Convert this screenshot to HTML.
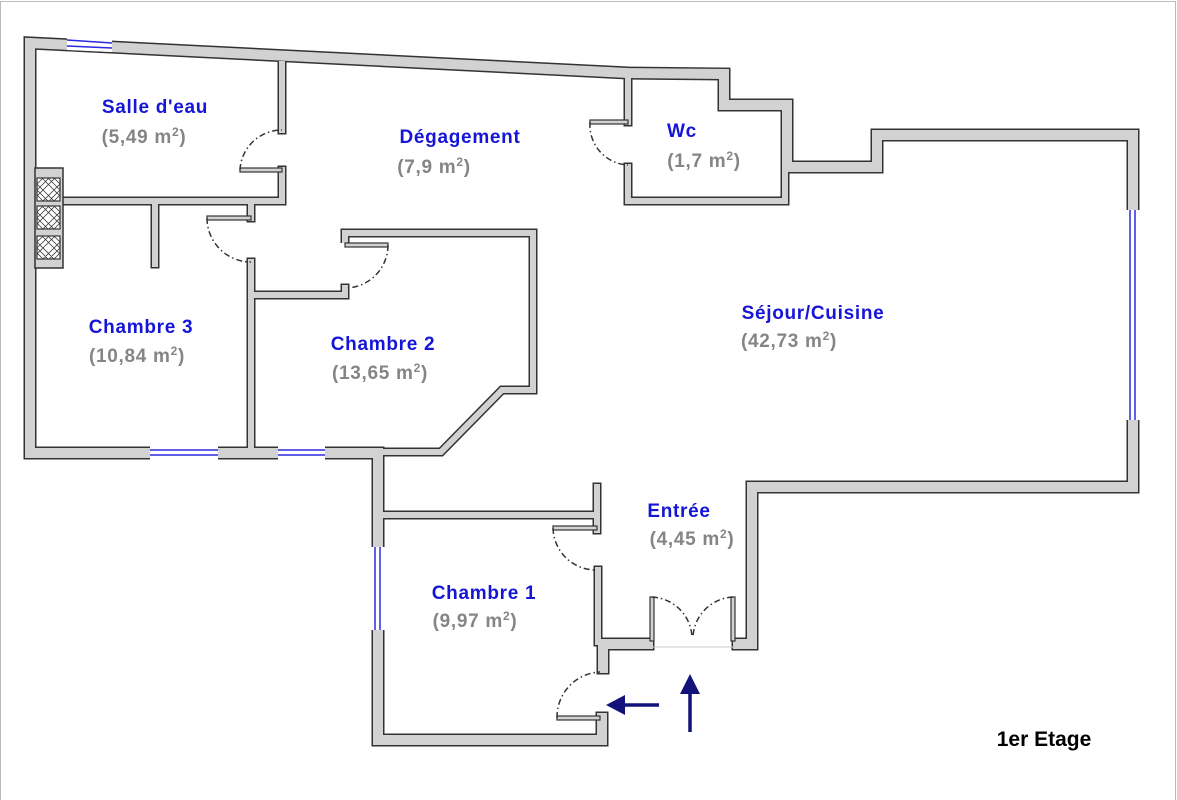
<!DOCTYPE html>
<html><head><meta charset="utf-8"><style>
html,body{margin:0;padding:0;background:#fff;}
svg{display:block;}
text{font-family:"Liberation Sans","DejaVu Sans",sans-serif;font-weight:bold;}
.n{fill:#1515d8;font-size:19px;letter-spacing:0.7px;}
.a{fill:#858585;font-size:19px;letter-spacing:0.7px;}
</style></head><body>
<svg width="1177" height="800" viewBox="0 0 1177 800" xmlns="http://www.w3.org/2000/svg">
<rect x="0.5" y="1.5" width="1175" height="805" fill="none" stroke="#bbb" stroke-width="1"/>
<g fill="none" stroke-linejoin="miter" stroke-linecap="square">
<g stroke="#333">
<polyline stroke-width="13" points="378,740 378,453 30,453 30,43 628,73 724,74 724,105 787,105 787,167 877,167 877,135 1133,135 1133,487 752,487 752,644 738,644"/>
<polyline stroke-width="13" points="648,644 603,644 603,668"/>
<polyline stroke-width="13" points="602,718 602,740 378,740"/>
<g stroke-width="9">
<polyline points="628,74 628,122"/><polyline points="628,167 628,201 785,201 785,167"/>
<polyline points="282,64 282,130"/><polyline points="282,170 282,201 35,201"/>
<polyline points="155,201 155,264"/>
<polyline points="251,201 251,218"/><polyline points="251,262 251,450"/>
<polyline points="251,295 345,295 345,288"/><polyline stroke-linecap="butt" points="345,243 345,233 533,233 533,390 502,390 441,452 380,452"/>
<polyline points="380,515 597,515 597,487"/><polyline points="597,515 597,530"/><polyline points="598,570 598,642"/>
</g></g>
<g stroke="#d2d2d2">
<polyline stroke-width="10" points="378,740 378,453 30,453 30,43 628,73 724,74 724,105 787,105 787,167 877,167 877,135 1133,135 1133,487 752,487 752,644 738,644"/>
<polyline stroke-width="10" points="648,644 603,644 603,668"/>
<polyline stroke-width="10" points="602,718 602,740 378,740"/>
<g stroke-width="6">
<polyline points="628,74 628,122"/><polyline points="628,167 628,201 785,201 785,167"/>
<polyline points="282,64 282,130"/><polyline points="282,170 282,201 35,201"/>
<polyline points="155,201 155,264"/>
<polyline points="251,201 251,218"/><polyline points="251,262 251,450"/>
<polyline points="251,295 345,295 345,288"/><polyline stroke-linecap="butt" points="345,243 345,233 533,233 533,390 502,390 441,452 376,452"/>
<polyline points="380,515 597,515 597,487"/><polyline points="597,515 597,530"/><polyline points="598,570 598,642"/>
</g></g>
</g>
<g stroke="#333" stroke-width="1.5" fill="#d2d2d2">
<rect x="35" y="168" width="28" height="100"/>
</g>
<g stroke="#333" stroke-width="1.2">
<rect x="37" y="178" width="23" height="23" fill="#fff"/>
<rect x="37" y="206" width="23" height="23" fill="#fff"/>
<rect x="37" y="236" width="23" height="23" fill="#fff"/>
<path d="M37,184l17,17M37,190l11,11M37,195l6,6M42,178l18,18M48,178l12,12M54,178l6,6M60,184l-17,17M60,190l-11,11M60,195l-6,6M55,178l-18,18M49,178l-12,12M43,178l-6,6" stroke-width="0.8"/>
<path d="M37,212l17,17M37,218l11,11M37,223l6,6M42,206l18,18M48,206l12,12M54,206l6,6M60,212l-17,17M60,218l-11,11M60,223l-6,6M55,206l-18,18M49,206l-12,12M43,206l-6,6" stroke-width="0.8"/>
<path d="M37,242l17,17M37,248l11,11M37,253l6,6M42,236l18,18M48,236l12,12M54,236l6,6M60,242l-17,17M60,248l-11,11M60,253l-6,6M55,236l-18,18M49,236l-12,12M43,236l-6,6" stroke-width="0.8"/>
</g>
<g>
<polygon points="67,38 112,40 112,52 67,50" fill="#fff"/>
<line x1="67" y1="40" x2="112" y2="43" stroke="#2a2ae0" stroke-width="1.5"/>
<line x1="67" y1="46" x2="112" y2="48" stroke="#2a2ae0" stroke-width="1.5"/>
<rect x="150" y="446" width="68" height="14" fill="#fff"/>
<line x1="150" y1="450" x2="218" y2="450" stroke="#2a2ae0" stroke-width="1.5"/>
<line x1="150" y1="455" x2="218" y2="455" stroke="#2a2ae0" stroke-width="1.5"/>
<rect x="278" y="446" width="47" height="14" fill="#fff"/>
<line x1="278" y1="450" x2="325" y2="450" stroke="#2a2ae0" stroke-width="1.5"/>
<line x1="278" y1="455" x2="325" y2="455" stroke="#2a2ae0" stroke-width="1.5"/>
<rect x="371" y="547" width="14" height="83" fill="#fff"/>
<line x1="375" y1="547" x2="375" y2="630" stroke="#2a2ae0" stroke-width="1.5"/>
<line x1="380" y1="547" x2="380" y2="630" stroke="#2a2ae0" stroke-width="1.5"/>
<rect x="1126" y="210" width="14" height="210" fill="#fff"/>
<line x1="1130" y1="210" x2="1130" y2="420" stroke="#2a2ae0" stroke-width="1.5"/>
<line x1="1135" y1="210" x2="1135" y2="420" stroke="#2a2ae0" stroke-width="1.5"/>
<line x1="650" y1="647" x2="735" y2="647" stroke="#ccc" stroke-width="1"/>
</g>
<g fill="#d2d2d2" stroke="#333" stroke-width="1.2">
<rect x="240" y="168" width="42" height="4"/>
<rect x="207" y="216" width="44" height="4"/>
<rect x="345" y="243" width="43" height="4"/>
<rect x="590" y="120" width="38" height="4"/>
<rect x="553" y="526" width="44" height="4"/>
<rect x="557" y="716" width="43" height="4"/>
<rect x="650" y="597" width="4" height="44"/>
<rect x="731" y="597" width="4" height="44"/>
</g>
<g fill="none" stroke="#333" stroke-width="1.5" stroke-dasharray="6,3,1.5,3">
<path d="M240,170 A42,42 0 0 1 282,130"/>
<path d="M207,218 A44,44 0 0 0 251,262"/>
<path d="M388,245 A43,43 0 0 1 345,288"/>
<path d="M590,122 A40,40 0 0 0 628,165"/>
<path d="M553,528 A43,43 0 0 0 597,570"/>
<path d="M557,718 A45,45 0 0 1 600,672"/>
<path d="M652,597 A42,42 0 0 1 692,637"/>
<path d="M733,597 A42,42 0 0 0 693,637"/>
</g>
<g fill="#12127a" stroke="#12127a">
<line x1="620" y1="705" x2="659" y2="705" stroke-width="3.5"/>
<polygon points="606,705 625,695 625,715" stroke="none"/>
<line x1="690" y1="690" x2="690" y2="732" stroke-width="3.5"/>
<polygon points="690,674 680,694 700,694" stroke="none"/>
</g>
<g text-anchor="middle">
<text class="n" x="155" y="113">Salle d'eau</text>
<text class="a" x="144" y="143">(5,49 m<tspan font-size="12" dy="-7">2</tspan><tspan dy="7">)</tspan></text>
<text class="n" x="460" y="143">Dégagement</text>
<text class="a" x="434" y="173">(7,9 m<tspan font-size="12" dy="-7">2</tspan><tspan dy="7">)</tspan></text>
<text class="n" x="682" y="137">Wc</text>
<text class="a" x="704" y="167">(1,7 m<tspan font-size="12" dy="-7">2</tspan><tspan dy="7">)</tspan></text>
<text class="n" x="813" y="319">Séjour/Cuisine</text>
<text class="a" x="789" y="347">(42,73 m<tspan font-size="12" dy="-7">2</tspan><tspan dy="7">)</tspan></text>
<text class="n" x="141" y="333">Chambre 3</text>
<text class="a" x="137" y="362">(10,84 m<tspan font-size="12" dy="-7">2</tspan><tspan dy="7">)</tspan></text>
<text class="n" x="383" y="350">Chambre 2</text>
<text class="a" x="380" y="379">(13,65 m<tspan font-size="12" dy="-7">2</tspan><tspan dy="7">)</tspan></text>
<text class="n" x="679" y="517">Entrée</text>
<text class="a" x="692" y="545">(4,45 m<tspan font-size="12" dy="-7">2</tspan><tspan dy="7">)</tspan></text>
<text class="n" x="484" y="599">Chambre 1</text>
<text class="a" x="475" y="627">(9,97 m<tspan font-size="12" dy="-7">2</tspan><tspan dy="7">)</tspan></text>
<text x="1044" y="746" font-size="21" fill="#000">1er Etage</text>
</g>
</svg>
</body></html>
